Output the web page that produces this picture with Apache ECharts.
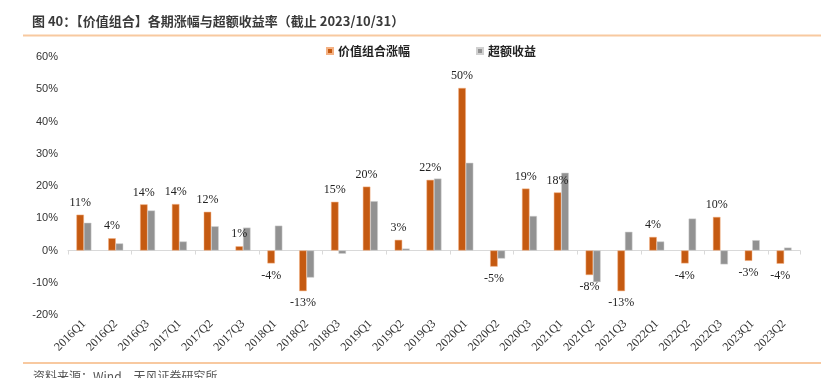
<!DOCTYPE html>
<html>
<head>
<meta charset="utf-8">
<script src="https://cdn.jsdelivr.net/npm/echarts@6/dist/echarts.min.js"></script>
<style>html,body{margin:0;padding:0;background:#fff;}#c{width:821px;height:378px;}</style>
</head>
<body>
<div id="c"></div>
<script>
var categories = ['2016Q1','2016Q2','2016Q3','2017Q1','2017Q2','2017Q3','2018Q1','2018Q2','2018Q3','2019Q1','2019Q2','2019Q3','2020Q1','2020Q2','2020Q3','2021Q1','2021Q2','2021Q3','2022Q1','2022Q2','2022Q3','2023Q1','2023Q2'];
var portfolioReturn = [11.1, 3.8, 14.3, 14.4, 12.0, 1.3, -4.0, -12.6, 15.1, 19.8, 3.3, 21.9, 50.4, -5.0, 19.2, 18.0, -7.6, -12.6, 4.2, -4.0, 10.4, -3.2, -4.1];
var excessReturn = [8.6, 2.2, 12.4, 2.8, 7.5, 7.1, 7.7, -8.4, -1.0, 15.3, 0.6, 22.3, 27.2, -2.5, 10.7, 24.1, -9.8, 5.8, 2.8, 9.9, -4.3, 3.2, 0.9];
var seriesNames = ['价值组合涨幅', '超额收益'];
var titleText = '图 40：【价值组合】各期涨幅与超额收益率（截止 2023/10/31）';
var sourceText = '资料来源：Wind，天风证券研究所';

var chart = echarts.init(document.getElementById('c'), null, {renderer: 'canvas'});
var orangeData = portfolioReturn.map(function (v) {
  return {value: v, label: {position: v < 0 ? 'bottom' : 'top'}};
});
var option = {
  animation: false,
  backgroundColor: '#ffffff',
  title: {
    text: titleText,
    left: 27, top: 10,
    textStyle: {fontFamily: 'Noto Sans CJK SC', fontSize: 13, fontWeight: 'bold', color: '#3a3a3a'}
  },
  legend: {
    left: 326, top: 45, padding: 0,
    itemWidth: 6, itemHeight: 6, itemGap: 66,
    icon: 'rect',
    textStyle: {fontFamily: 'Noto Sans CJK SC', fontSize: 12, fontWeight: 'bold', color: '#222'},
    data: seriesNames
  },
  grid: {left: 68, right: 21, top: 57, bottom: 63, containLabel: false},
  xAxis: [{
    type: 'category', data: categories, position: 'bottom',
    axisLine: {show: false, onZero: false},
    axisTick: {show: false},
    axisLabel: {rotate: 45, interval: 0, margin: 7, fontFamily: 'Liberation Serif', fontSize: 12, color: '#333'}
  }, {
    type: 'category', data: categories, position: 'bottom',
    axisLine: {show: true, onZero: true, lineStyle: {color: '#d9d9d9', width: 1}},
    axisTick: {show: true, length: 4, lineStyle: {color: '#d9d9d9'}},
    axisLabel: {show: false}
  }],
  yAxis: {
    type: 'value', min: -20, max: 60, interval: 10,
    axisLine: {show: false}, axisTick: {show: false}, splitLine: {show: false},
    axisLabel: {formatter: '{value}%', margin: 10, fontFamily: 'Liberation Sans', fontSize: 11, color: '#333'}
  },
  series: [{
    name: seriesNames[0], type: 'bar', xAxisIndex: 0,
    data: orangeData,
    barGap: '0%', barCategoryGap: '53%',
    itemStyle: {color: '#c55a11', borderColor: '#f4b183', borderWidth: 0.5},
    label: {show: true, distance: 6, fontFamily: 'Liberation Serif', fontSize: 12, color: '#222',
      formatter: function (p) { return Math.round(p.value) + '%'; }}
  }, {
    name: seriesNames[1], type: 'bar', xAxisIndex: 0,
    data: excessReturn,
    barGap: '0%', barCategoryGap: '53%',
    itemStyle: {color: '#929292', borderColor: '#d0d0d0', borderWidth: 0.5}
  }],
  graphic: [
    {type: 'line', shape: {x1: 23, y1: 35.5, x2: 821, y2: 35.5}, style: {stroke: '#f8c9a0', lineWidth: 2}},
    {type: 'line', shape: {x1: 23, y1: 363, x2: 821, y2: 363}, style: {stroke: '#f8c9a0', lineWidth: 2}},
    {type: 'text', left: 33, top: 370, style: {text: sourceText, font: '12px "Noto Sans CJK SC"', fill: '#555'}}
  ]
};
chart.setOption(option);
</script>
</body>
</html>
